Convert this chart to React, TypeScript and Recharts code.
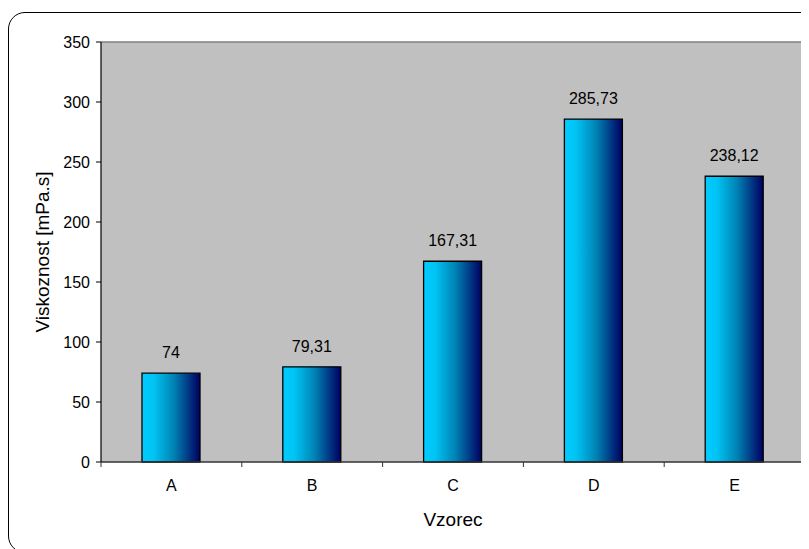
import {
  BarChart,
  Bar,
  XAxis,
  YAxis,
  LabelList,
  CartesianGrid,
} from "recharts";

// Viscosity per sample
const CATEGORIES = ["A", "B", "C", "D", "E"];
const VISCOSITY = [74, 79.31, 167.31, 285.73, 238.12];
const Y_TICKS = [0, 50, 100, 150, 200, 250, 300, 350];

const data = CATEGORIES.map((vzorec, i) => ({ vzorec, viskoznost: VISCOSITY[i] }));

const FONT = "'Liberation Sans', Arial, sans-serif";
const W = 801;
const H = 541;
const MARGIN = { top: 34, right: 4, bottom: 17, left: 3 };
const Y_AXIS_W = 90;
const PLOT_W = W - MARGIN.left - MARGIN.right - Y_AXIS_W;
const HALF_BAND = PLOT_W / CATEGORIES.length / 2;

// decimal comma, as in the Czech locale
const fmt = (v: number | string) => String(v).replace(".", ",");

// category label plus tick marks on the band boundaries
function CategoryTick(props: any) {
  const { x, y, payload, index, visibleTicksCount } = props;
  const axisY = y - 18;
  const last = index === visibleTicksCount - 1;
  return (
    <g>
      <line x1={x - HALF_BAND} x2={x - HALF_BAND} y1={axisY} y2={axisY + 5} stroke="#333" />
      {last && (
        <line x1={x + HALF_BAND} x2={x + HALF_BAND} y1={axisY} y2={axisY + 5} stroke="#333" />
      )}
      <text x={x} y={y} dy="0.71em" textAnchor="middle" fontSize={16} fill="#000">
        {payload.value}
      </text>
    </g>
  );
}

export default function App() {
  return (
    <div style={{ position: "relative", width: W, height: H, overflow: "hidden" }}>
      {/* rounded outer frame */}
      <div
        style={{
          position: "absolute",
          left: 0,
          top: 3.5,
          width: 811,
          height: 541,
          border: "1.5px solid #000",
          borderRadius: 17,
          boxSizing: "border-box",
        }}
      />
      <BarChart
        width={W}
        height={H}
        data={data}
        margin={MARGIN}
        style={{ position: "absolute", left: 0, top: 0, fontFamily: FONT }}
      >
        <defs>
          <linearGradient id="barGrad" x1="0" y1="0" x2="1" y2="0">
            <stop offset="0" stopColor="#00CCFF" />
            <stop offset="0.2" stopColor="#00C4F4" />
            <stop offset="0.55" stopColor="#0082B4" />
            <stop offset="0.85" stopColor="#002A7C" />
            <stop offset="1" stopColor="#000060" />
          </linearGradient>
        </defs>
        {/* grey plot area, outlined on the top and right */}
        <CartesianGrid
          fill="#C0C0C0"
          fillOpacity={1}
          stroke="#808080"
          strokeWidth={1.5}
          horizontalCoordinatesGenerator={({ offset }: any) => [offset.top]}
          verticalCoordinatesGenerator={({ offset }: any) => [offset.left + offset.width]}
        />
        <XAxis
          dataKey="vzorec"
          height={70}
          tickLine={false}
          tickSize={0}
          tickMargin={18}
          axisLine={{ stroke: "#333", strokeWidth: 1.5 }}
          tick={<CategoryTick />}
          label={{
            value: "Vzorec",
            position: "insideBottom",
            offset: 6,
            style: { fontSize: 19, fill: "#000" },
          }}
        />
        <YAxis
          width={Y_AXIS_W}
          domain={[0, 350]}
          ticks={Y_TICKS}
          tickSize={5}
          tickMargin={6}
          axisLine={{ stroke: "#000", strokeWidth: 1.2 }}
          tickLine={{ stroke: "#000" }}
          tick={{ fontSize: 16, fill: "#000" }}
          label={{
            value: "Viskoznost [mPa.s]",
            angle: -90,
            position: "insideLeft",
            offset: 31,
            style: { fontSize: 19, fill: "#000", textAnchor: "middle" },
          }}
        />
        <Bar
          dataKey="viskoznost"
          barSize={58}
          fill="url(#barGrad)"
          stroke="#000"
          strokeWidth={1.3}
          isAnimationActive={false}
        >
          <LabelList
            dataKey="viskoznost"
            position="top"
            offset={15}
            formatter={fmt}
            style={{ fontSize: 16, fill: "#000" }}
          />
        </Bar>
      </BarChart>
    </div>
  );
}
